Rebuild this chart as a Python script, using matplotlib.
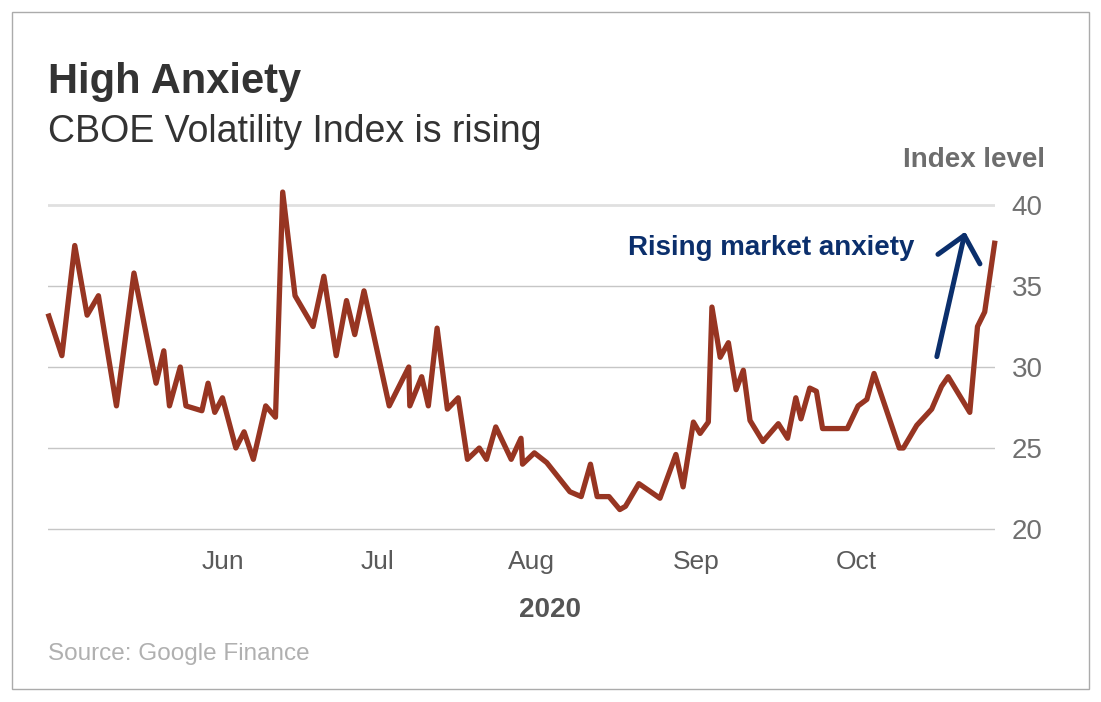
import matplotlib
matplotlib.use("Agg")
import matplotlib.pyplot as plt
from matplotlib.patches import Rectangle

# ---- data ----
# x: days since 27 Apr 2020, y: CBOE VIX index level
day = [0.0, 2.7, 5.2, 7.6, 9.8, 13.3, 16.7, 21.0, 22.5, 23.6, 25.7, 26.8,
       29.9, 31.1, 32.4, 33.9, 36.5, 38.1, 39.9, 42.3, 44.2, 45.6, 48.0,
       51.5, 53.6, 56.0, 58.0, 59.6, 61.4, 66.3, 70.1, 70.3, 72.6, 73.9,
       75.6, 77.6, 79.7, 81.5, 83.8, 85.2, 87.0, 90.0, 91.9, 92.2, 94.5,
       96.9, 101.4, 103.6, 105.4, 106.7, 109.0, 111.1, 112.2, 114.8, 118.9,
       122.0, 123.4, 125.4, 126.7, 128.3, 129.0, 130.6, 132.2, 133.7, 135.1,
       136.4, 138.9, 141.9, 143.7, 145.3, 146.3, 148.0, 149.3, 150.5, 155.3,
       157.4, 159.1, 160.5, 165.4, 166.2, 168.8, 171.7, 173.6, 174.9, 179.1,
       180.6, 182.0, 184.0]
vix = [33.3, 30.7, 37.5, 33.2, 34.4, 27.6, 35.8, 29.0, 31.0, 27.6, 30.0, 27.6,
       27.3, 29.0, 27.2, 28.1, 25.0, 26.0, 24.3, 27.6, 26.9, 40.8, 34.4,
       32.5, 35.6, 30.7, 34.1, 32.0, 34.7, 27.6, 30.0, 27.6, 29.4, 27.6,
       32.4, 27.4, 28.1, 24.3, 25.0, 24.3, 26.3, 24.3, 25.6, 24.0, 24.7,
       24.1, 22.3, 22.0, 24.0, 22.0, 22.0, 21.2, 21.4, 22.8, 21.9,
       24.6, 22.6, 26.6, 25.9, 26.6, 33.7, 30.6, 31.5, 28.6, 29.8,
       26.7, 25.4, 26.5, 25.6, 28.1, 26.8, 28.7, 28.5, 26.2, 26.2,
       27.6, 28.0, 29.6, 25.0, 25.0, 26.4, 27.4, 28.8, 29.4, 27.2,
       32.5, 33.4, 37.8]
month_pos = [34, 64, 94, 126, 157]
month_labels = ["Jun", "Jul", "Aug", "Sep", "Oct"]
y_ticks = [20, 25, 30, 35, 40]

# ---- styling ----
W, H = 1101, 702
LINE = "#973522"
NAVY = "#0b2f6c"
plt.rcParams["font.family"] = ["Liberation Sans", "DejaVu Sans"]

fig = plt.figure(figsize=(W / 100, H / 100), dpi=100)
fig.patch.set_facecolor("white")

def fx(px):
    return px / W

def fy(py):
    return 1 - py / H

# border
fig.add_artist(Rectangle((fx(12), fy(689)), fx(1089) - fx(12), fy(12) - fy(689),
                         transform=fig.transFigure, fill=False,
                         edgecolor="#ababab", linewidth=1.0))

y0, y1 = 19.5, 41.5
px_per = 16.2
bot = 529 + (20 - y0) * px_per
top = 205 - (y1 - 40) * px_per
ax = fig.add_axes([fx(48), fy(bot), fx(995) - fx(48), (bot - top) / H])
ax.set_xlim(0, 184)
ax.set_ylim(y0, y1)
for s in ax.spines.values():
    s.set_visible(False)
ax.set_facecolor("none")

ax.set_yticks(y_ticks)
ax.yaxis.tick_right()
ax.tick_params(axis="y", length=0, pad=12, labelsize=20, labelcolor="#707070")
ax.grid(axis="y", color="#c6c6c6", linewidth=1.0)
ax.grid(axis="x", visible=False)
gl = ax.get_ygridlines()
gl[-1].set_color("#e0e0e0")
gl[-1].set_linewidth(2.0)

ax.set_xticks(month_pos)
ax.set_xticklabels(month_labels)
ax.tick_params(axis="x", length=0, pad=9, labelsize=19, labelcolor="#5a5a5a")

ax.plot(day, vix, color=LINE, linewidth=3.8, solid_joinstyle="round",
        solid_capstyle="butt", clip_on=False, zorder=3)

# annotation
ax.annotate("", xy=(178.2, 38.35), xytext=(172.7, 30.64),
            arrowprops=dict(arrowstyle="->,head_length=1.75,head_width=1.55",
                            mutation_scale=10, color=NAVY, linewidth=3.6,
                            shrinkA=0, shrinkB=0))
ax.text(168.4, 36.9, "Rising market anxiety", ha="right", va="baseline",
        fontsize=20, fontweight="bold", color=NAVY)

# texts
fig.text(fx(48), fy(93), "High Anxiety", ha="left", va="baseline",
         fontsize=30, fontweight="bold", color="#333333")
fig.text(fx(48), fy(142), "CBOE Volatility Index is rising", ha="left",
         va="baseline", fontsize=27, color="#333333")
fig.text(fx(1045), fy(167), "Index level", ha="right", va="baseline",
         fontsize=20, fontweight="bold", color="#6d6d6d")
fig.text(fx(550), fy(617), "2020", ha="center", va="baseline",
         fontsize=20, fontweight="bold", color="#555555")
fig.text(fx(48), fy(660), "Source: Google Finance", ha="left", va="baseline",
         fontsize=17.5, color="#b0b0b0")

fig.savefig("out.png", dpi=100, facecolor="white")
